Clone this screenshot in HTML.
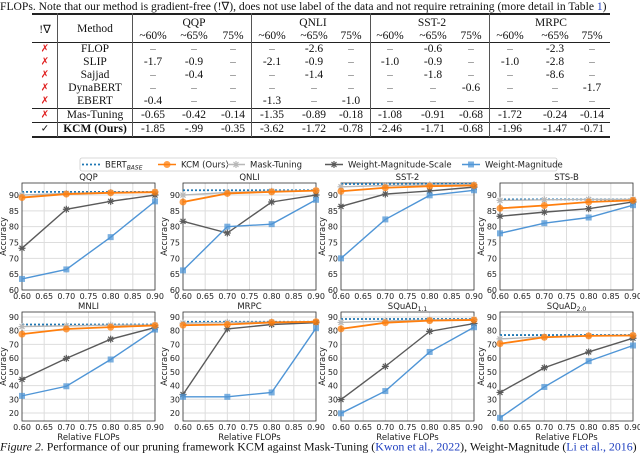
<!DOCTYPE html>
<html><head><meta charset="utf-8">
<style>
body{margin:0;width:640px;height:454px;overflow:hidden;background:#fff;font-family:"Liberation Serif",serif;position:relative}
.t{position:absolute;white-space:nowrap;font-size:11.5px;color:#111;transform:translate(-50%,-50%)}
.l{position:absolute;background:#222}
svg{position:absolute;left:0;top:0}
</style></head><body>
<div class="t" style="left:0;top:6px;transform:translate(0,-50%);font-size:11.6px">FLOPs. Note that our method is gradient-free (!∇), does not use label of the data and not require retraining (more detail in Table <span style="color:#2040c0">1</span>)</div>
<div id="tbl"></div>
<svg id="fig" width="640" height="454"></svg>
<div class="t" style="left:0;top:447px;transform:translate(0,-50%);font-size:11.9px"><i>Figure 2.</i> Performance of our pruning framework KCM against Mask-Tuning (<span style="color:#2040c0">Kwon et al., 2022</span>), Weight-Magnitude (<span style="color:#2040c0">Li et al., 2016</span>)</div>
<script>
// ---------- table ----------
const tbl=document.getElementById('tbl');
function txt(s,x,y,extra){const d=document.createElement('div');d.className='t';d.style.left=x+'px';d.style.top=y+'px';d.innerHTML=s;if(extra)d.style.cssText+=extra;


tbl.appendChild(d);}
function hl(y,x1,x2,w){const d=document.createElement('div');d.className='l';d.style.cssText+=`left:${x1}px;top:${y}px;width:${x2-x1}px;height:${w}px`;


tbl.appendChild(d);}
function vl(x,y1,y2){const d=document.createElement('div');d.className='l';d.style.cssText+=`left:${x}px;top:${y1}px;width:1px;height:${y2-y1}px;background:#555`;


tbl.appendChild(d);}
hl(13,32,610,1.5);hl(42,32,610,1);hl(108,32,610,1);hl(122,32,610,1);hl(136,32,610,1.5);
[57,132,251,370,489].forEach(x=>vl(x,13,137));
const cols=[153,194,233,272,314,351,390,433,471,510,555,592];
txt('!∇',45,29);txt('Method',95,29);
['QQP','QNLI','SST-2','MRPC'].forEach((g,i)=>{txt(g,194+i*119,23);});
['~60%','~65%','75%'].forEach((h,j)=>{for(let i=0;i<4;i++)txt(h,cols[i*3+j],36);});
const rows=[
['FLOP','– – – – -2.6 – – -0.6 – – -2.3 –'],
['SLIP','-1.7 -0.9 – -2.1 -0.9 – -1.0 -0.9 – -1.0 -2.8 –'],
['Sajjad','– -0.4 – – -1.4 – – -1.8 – – -8.6 –'],
['DynaBERT','– – – – – – – – -0.6 – – -1.7'],
['EBERT','-0.4 – – -1.3 – -1.0 – – – – – –'],
['Mas-Tuning','-0.65 -0.42 -0.14 -1.35 -0.89 -0.18 -1.08 -0.91 -0.68 -1.72 -0.24 -0.14'],
['<b>KCM (Ours)</b>','-1.85 -.99 -0.35 -3.62 -1.72 -0.78 -2.46 -1.71 -0.68 -1.96 -1.47 -0.71']];
const ry=[49,62,75,88,101,115,129];
rows.forEach((r,i)=>{txt(i<6?'✗':'✓',45,ry[i],i<6?'color:#e02020;font-family:DejaVu Sans;font-size:10px':'font-family:DejaVu Sans;font-size:10px');
txt(r[0],95,ry[i]);r[1].split(' ').forEach((v,j)=>txt(v,cols[j],ry[i],v==='–'?'color:#666':''));});

// ---------- charts ----------
const xs=[0.6,0.7,0.8,0.9];
const titles=['QQP','QNLI','SST-2','STS-B','MNLI','MRPC','SQuAD<tspan font-size="6" dy="2">1.1</tspan>','SQuAD<tspan font-size="6" dy="2">2.0</tspan>'];
const bertBase=[91,91.5,93.5,88.6,84.5,86.5,88.5,76.8];
const kcm=[[89.2,90.3,90.7,90.9],[87.8,90.5,91,91.4],[91.2,92.3,92.8,93],[85.8,86.7,87.8,88.3],[77.5,81.2,82.6,83.8],[84,84.5,86,86.5],[81.3,85.8,87.3,87.8],[70.5,75.2,76.2,76.5]];
const maskTuning=[[90,90.5,90.8,91],[90,90.8,91.2,91.4],[92.6,93,93.2,93.3],[88.3,88.5,88.6,88.6],[83,83.5,84,84.1],[85.5,86,86.3,86.5],[86,87,87.8,88.2],[74,75.5,76.3,76.5]];
const wms=[[73.2,85.5,88,90],[81.7,78,87.8,90],[86.4,90.3,91.3,92.5],[83.3,84.6,85.7,87.8],[44.5,59.8,73.8,82.3],[33.5,81.3,84.5,85.8],[29.8,54,79.5,85.2],[35,53,64.5,74.5]];
const wm=[[63.5,66.5,76.7,88],[66.2,80,80.8,88.5],[70,82.3,89.9,91.5],[77.9,81.1,82.9,86.8],[32.5,39.5,59,80.8],[31.8,31.8,35,81.8],[19.8,36,64.5,82.5],[16.5,39,57.8,69.2]];
const topTicks=[60,65,70,75,80,85,90], botTicks=[20,30,40,50,60,70,80,90];
const xTicks=[0.6,0.65,0.7,0.75,0.8,0.85,0.9];
const svg=document.getElementById('fig');const NS='http://www.w3.org/2000/svg';
function el(t,a,p){const e=document.createElementNS(NS,t);for(const k in a)e.setAttribute(k,a[k]);(p||svg).appendChild(e);return e;}
const lefts=[22,183,341,500],W=133;
const C={bert:'#1f77b4',kcm:'#ff7f0e',mask:'#b8b8b8',wms:'#5a5a5a',wm:'#4f95d6'};
function marker(g,type,x,y,c){
 if(type==='o'){el('circle',{cx:x,cy:y,r:3.5,fill:c,'fill-opacity':0.75},g);}
 else if(type==='s'){el('rect',{x:x-3,y:y-3,width:6,height:6,fill:c,'fill-opacity':0.75},g);}
 else {el('path',{d:`M${x-3.5},${y}H${x+3.5}M${x},${y-3.5}V${y+3.5}M${x-2.5},${y-2.5}L${x+2.5},${y+2.5}M${x+2.5},${y-2.5}L${x-2.5},${y+2.5}`,stroke:c,'stroke-width':1.2},g);}
}
for(let i=0;i<8;i++){
 const row=i<4?0:1, L=lefts[i%4], T=row?312:183, B=row?421:290;
 const y0=row?14.2:60, y1=row?93.6:93.8, ticks=row?botTicks:topTicks;
 const X=v=>L+(v-0.6)/0.3*W, Y=v=>B-(v-y0)/(y1-y0)*(B-T);
 const g=el('g',{});
 
 
 xTicks.forEach(t=>{el('line',{x1:X(t),x2:X(t),y1:T,y2:B,stroke:'#ddd','stroke-width':1},g);
  const tx=el('text',{x:X(t),y:B+9,'font-size':8,'text-anchor':'middle','font-family':'DejaVu Sans',fill:'#222'},g);tx.textContent=t.toFixed(2);});
 ticks.forEach(t=>{el('line',{x1:L,x2:L+W,y1:Y(t),y2:Y(t),stroke:'#ddd','stroke-width':1},g);
  const tx=el('text',{x:L-3,y:Y(t)+3,'font-size':8,'text-anchor':'end','font-family':'DejaVu Sans',fill:'#222'},g);tx.textContent=t;});
 el('rect',{x:L,y:T,width:W,height:B-T,fill:'none',stroke:'#333','stroke-width':0.8},g);
 const tt=el('text',{x:L+W/2,y:T-3,'font-size':8.5,'text-anchor':'middle','font-family':'DejaVu Sans',fill:'#222'},g);tt.innerHTML=titles[i];
 const yl=el('text',{x:0,y:0,'font-size':8.5,'text-anchor':'middle','font-family':'DejaVu Sans',fill:'#222',transform:`translate(${L-16},${(T+B)/2}) rotate(-90)`},g);yl.textContent='Accuracy';
 if(row){const xl=el('text',{x:L+W/2,y:B+19,'font-size':8.5,'text-anchor':'middle','font-family':'DejaVu Sans',fill:'#222'},g);xl.textContent='Relative FLOPs';}
 el('line',{x1:L,x2:L+W,y1:Y(bertBase[i]),y2:Y(bertBase[i]),stroke:C.bert,'stroke-width':1.8,'stroke-dasharray':'2,2'},g);
 [[maskTuning[i],C.mask,'*'],[wms[i],C.wms,'*'],[wm[i],C.wm,'s'],[kcm[i],C.kcm,'o']].forEach(([d,c,m])=>{
  const pts=d.map((v,k)=>X(xs[k])+','+Y(v)).join(' ');
  el('polyline',{points:pts,fill:'none',stroke:c,'stroke-width':c===C.kcm?1.8:1.4},g);
  d.forEach((v,k)=>marker(g,m,X(xs[k]),Y(v),c));
 });
}
// legend
const lg=el('g',{});


el('rect',{x:80,y:158,width:477,height:13,rx:2,fill:'#fff',stroke:'#ccc','stroke-width':0.8},lg);
const legItems=[['BERT<tspan font-size="6" font-style="italic" dy="2">BASE</tspan>',C.bert,'d',82],['KCM (Ours)',C.kcm,'o',158],['Mask-Tuning',C.mask,'*',227],['Weight-Magnitude-Scale',C.wms,'*',325],['Weight-Magnitude',C.wm,'s',462]];
legItems.forEach(([t,c,m,x])=>{
 if(m==='d')el('line',{x1:x,x2:x+18,y1:164.5,y2:164.5,stroke:c,'stroke-width':1.8,'stroke-dasharray':'2,2'},lg);
 else{el('line',{x1:x,x2:x+18,y1:164.5,y2:164.5,stroke:c,'stroke-width':1.6},lg);marker(lg,m,x+9,164.5,c);}
 const tx=el('text',{x:x+23,y:167.5,'font-size':8.5,'font-family':'DejaVu Sans',fill:'#222'},lg);tx.innerHTML=t;
});
</script>
</body></html>
